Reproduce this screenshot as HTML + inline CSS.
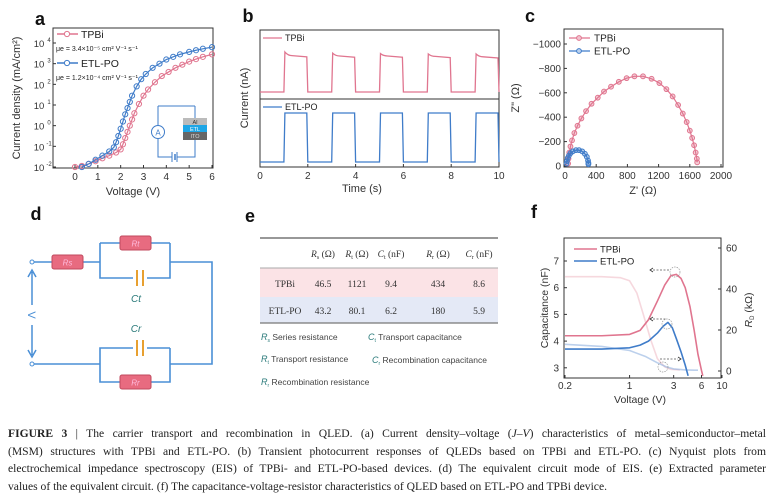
<!DOCTYPE html>
<html><head><meta charset="utf-8"><style>
body{margin:0;background:#fff;width:774px;height:501px;overflow:hidden;font-family:"Liberation Sans",sans-serif}
svg{position:absolute;left:0;top:0}
.cap{position:absolute;left:8px;width:758px;font-family:"Liberation Serif",serif;font-size:11.6px;color:#222;line-height:17.5px;text-align:justify;text-align-last:justify;white-space:nowrap}
</style></head><body>
<svg id="fig" width="774" height="415" font-family="Liberation Sans, sans-serif"></svg>
<div class="cap" style="top:425px"><b>FIGURE 3</b> | The carrier transport and recombination in QLED. (a) Current density–voltage (<i>J–V</i>) characteristics of metal–semiconductor–metal</div>
<div class="cap" style="top:442.5px">(MSM) structures with TPBi and ETL-PO. (b) Transient photocurrent responses of QLEDs based on TPBi and ETL-PO. (c) Nyquist plots from</div>
<div class="cap" style="top:460px">electrochemical impedance spectroscopy (EIS) of TPBi- and ETL-PO-based devices. (d) The equivalent circuit mode of EIS. (e) Extracted parameter</div>
<div class="cap" style="top:477.5px;text-align-last:left">values of the equivalent circuit. (f) The capacitance-voltage-resistor characteristics of QLED based on ETL-PO and TPBi device.</div>
<script>
// ---- Panel a data ----
const aTpbiV=[0,0.3,0.6,0.9,1.2,1.5,1.8,2.0,2.1,2.2,2.3,2.4,2.5,2.6,2.8,3.0,3.2,3.5,3.8,4.1,4.4,4.7,5.0,5.3,5.6,6.0];
const aTpbiLogJ=[-2,-1.95,-1.85,-1.72,-1.58,-1.45,-1.3,-1.15,-0.9,-0.6,-0.3,0,0.3,0.6,1.05,1.45,1.75,2.1,2.4,2.6,2.8,2.95,3.1,3.22,3.33,3.45];
const aEtlV=[0.3,0.6,0.9,1.2,1.5,1.7,1.8,1.9,2.0,2.1,2.2,2.3,2.4,2.5,2.7,2.9,3.1,3.4,3.7,4.0,4.3,4.6,5.0,5.3,5.6,6.0];
const aEtlLogJ=[-2,-1.85,-1.65,-1.45,-1.25,-1.05,-0.8,-0.5,-0.15,0.2,0.55,0.85,1.15,1.45,1.9,2.25,2.5,2.8,3.0,3.2,3.33,3.45,3.57,3.65,3.72,3.8];
const aXTicks=[0,1,2,3,4,5,6];
const aYTicks=[-2,-1,0,1,2,3,4];
// ---- Panel b data ----
const bOnTimes=[1,3,5,7,9];
const bOffTimes=[2,4,6,8,10];
const bTpbiPeak=[1,0.97,0.96,0.95,0.95];
const bTpbiEnd=[0.88,0.87,0.87,0.86,0.85];
const bEtlHigh=[1,1,1,1,1];
const bXTicks=[0,2,4,6,8,10];
// ---- Panel c data ----
const cTpbiRe=[40,45,55,70,90,120,160,210,270,340,420,500,590,690,790,890,1000,1110,1210,1300,1380,1450,1510,1560,1600,1630,1655,1675,1690,1695];
const cTpbiIm=[20,60,110,160,210,270,330,390,450,510,560,610,650,690,720,735,735,715,680,630,570,500,430,360,290,230,170,110,60,30];
const cEtlRe=[20,25,35,50,70,100,140,180,220,255,280,295,300,300];
const cEtlIm=[20,40,65,85,105,120,130,130,120,100,75,45,25,15];
const cXTicks=[0,400,800,1200,1600,2000];
const cYTicks=[0,-200,-400,-600,-800,-1000];
// ---- Panel e data ----
const eHeaders=["Rs","Rt","Ct","Rr","Cr"];
const eTpbi=["46.5","1121","9.4","434","8.6"];
const eEtl=["43.2","80.1","6.2","180","5.9"];
// ---- Panel f data ----
const fTpbiV=[0.2,0.5,1,1.3,1.6,2,2.4,2.8,3.2,3.6,4,4.5,5,5.5,6,6.2];
const fTpbiC=[4.2,4.2,4.25,4.4,4.8,5.5,6.1,6.45,6.5,6.35,6.0,5.3,4.4,3.5,2.9,2.7];
const fEtlV=[0.2,0.5,1,1.3,1.6,2,2.3,2.6,2.9,3.2,3.6,4,4.3];
const fEtlC=[3.7,3.7,3.75,3.85,4.0,4.3,4.55,4.7,4.5,4.1,3.6,3.1,2.7];
const fTpbiRV=[0.2,0.5,0.8,1,1.2,1.4,1.7,2,2.4,2.8,3.5];
const fTpbiR=[46,46,45.5,44,38,28,15,6,2,0.8,0.5];
const fEtlRV=[0.2,0.5,1,1.5,2,2.5,3,4,5,5.5];
const fEtlR=[13,12,10,7,4,2,1,0.5,0.4,0.4];
const fXTicks=[0.2,1,3,6,10];
const fCTicks=[3,4,5,6,7];
const fRTicks=[0,20,40,60];

const svg=document.getElementById('fig');
const NS='http://www.w3.org/2000/svg';
function el(tag,attrs,parent){const e=document.createElementNS(NS,tag);for(const k in attrs)e.setAttribute(k,attrs[k]);(parent||svg).appendChild(e);return e;}
function txt(x,y,s,size,parent,extra){const t=el('text',Object.assign({x:x,y:y,'font-size':size,fill:'#222','text-anchor':'middle'},extra||{}),parent);t.textContent=s;return t;}
const PINK='#e0758f',BLUE='#3f7cc9';

[['a',40,25],['b',248,22],['c',530,22],['d',36,220],['e',250,222],['f',534,218]].forEach(p=>{
 const t=txt(p[1],p[2],p[0],18,null,{'font-weight':'bold',fill:'#111'});
 
 
});

// ===== Panel a =====
(function(){
 const g=el('g',{});
 
 
 const L=53,R=213,T=28,B=168;
 const xs=v=>75+v*(212-75)/6, ys=l=>167-(l+2)*(124/6);
 el('rect',{x:L,y:T,width:R-L,height:B-T,fill:'none',stroke:'#333','stroke-width':1},g);
 aXTicks.forEach(v=>{el('line',{x1:xs(v),x2:xs(v),y1:B,y2:B-3,stroke:'#333'},g);txt(xs(v),B+12,String(v),10,g,{fill:'#333'});});
 aYTicks.forEach(v=>{el('line',{x1:L,x2:L+3,y1:ys(v),y2:ys(v),stroke:'#333'},g);
  txt(L-14,ys(v)+4,'10',9.5,g,{fill:'#333','text-anchor':'middle'});
  txt(L-4,ys(v)-1,String(v),6,g,{fill:'#333','text-anchor':'middle'});});
 txt(20,98,'Current density (mA/cm²)',11,g,{transform:'rotate(-90 20 98)',fill:'#333'});
 txt(133,195,'Voltage (V)',11,g,{fill:'#333'});
 function series(V,J,c,name){
  const pl=el('polyline',{points:V.map((v,i)=>xs(v)+','+ys(J[i])).join(' '),fill:'none',stroke:c,'stroke-width':1.2},g);
  
  
  V.forEach((v,i)=>{const m=el('circle',{cx:xs(v),cy:ys(J[i]),r:2.6,fill:'none',stroke:c,'stroke-width':1},g);
   
   });
 }
 series(aTpbiV,aTpbiLogJ,PINK,'tpbi');
 series(aEtlV,aEtlLogJ,BLUE,'etl-po');
 el('line',{x1:57,x2:78,y1:34,y2:34,stroke:PINK,'stroke-width':1.5},g);el('circle',{cx:67,cy:34,r:2.6,fill:'#fff',stroke:PINK},g);
 txt(81,38,'TPBi',10.5,g,{'text-anchor':'start'});
 txt(56,51,'μe = 3.4×10⁻⁵ cm² V⁻¹ s⁻¹',7,g,{'text-anchor':'start'});
 el('line',{x1:57,x2:78,y1:63,y2:63,stroke:BLUE,'stroke-width':1.5},g);el('circle',{cx:67,cy:63,r:2.6,fill:'#fff',stroke:BLUE},g);
 txt(81,67,'ETL-PO',10.5,g,{'text-anchor':'start'});
 txt(56,80,'μe = 1.2×10⁻⁴ cm² V⁻¹ s⁻¹',7,g,{'text-anchor':'start'});
 el('path',{d:'M158 106 V125 M158 139 V157 H172 M177 157 H195 V140 M195 106 H158 M195 106 V119',fill:'none',stroke:BLUE,'stroke-width':1},g);
 el('circle',{cx:158,cy:132,r:6.5,fill:'#fff',stroke:BLUE},g);txt(158,135.5,'A',8,g,{fill:BLUE});
 el('line',{x1:172,x2:172,y1:152,y2:162,stroke:BLUE},g);el('line',{x1:175,x2:175,y1:154,y2:160,stroke:BLUE,'stroke-width':1.5},g);el('line',{x1:177,x2:177,y1:152,y2:162,stroke:BLUE},g);
 el('rect',{x:183,y:118,width:24,height:7,fill:'#bbb'},g);txt(195,124,'Al',5.5,g,{fill:'#333'});
 el('rect',{x:183,y:125,width:24,height:7,fill:'#1ea6e6'},g);txt(195,131,'ETL',5.5,g,{fill:'#fff'});
 el('rect',{x:183,y:132,width:24,height:8,fill:'#666'},g);txt(195,138,'ITO',5.5,g,{fill:'#ddd'});
})();

// ===== Panel b =====
(function(){
 const g=el('g',{});
 
 
 const L=260,R=499,T=30,M=99,B=167;
 const xs=t=>L+t*(R-L)/10;
 const yp=v=>92-v*40, yb=v=>162-v*49;
 el('rect',{x:L,y:T,width:R-L,height:B-T,fill:'none',stroke:'#333'},g);
 el('line',{x1:L,x2:R,y1:M,y2:M,stroke:'#333'},g);
 bXTicks.forEach(v=>{el('line',{x1:xs(v),x2:xs(v),y1:B,y2:B-3,stroke:'#333'},g);txt(xs(v),B+12,String(v),10,g,{fill:'#333'});});
 txt(362,192,'Time (s)',11,g,{fill:'#333'});
 txt(248,98,'Current (nA)',11,g,{transform:'rotate(-90 248 98)',fill:'#333'});
 let dp='M'+xs(0)+' '+yp(0), db='M'+xs(0)+' '+yb(0);
 bOnTimes.forEach((t,i)=>{
  const off=bOffTimes[i];
  dp+=' L'+xs(t)+' '+yp(0)+' L'+(xs(t)+1)+' '+yp(bTpbiPeak[i])+' Q'+(xs(t)+4)+' '+yp(bTpbiEnd[i]+0.03)+' '+(xs(t)+8)+' '+yp(bTpbiEnd[i]+0.03)+' L'+(xs(off)-1)+' '+yp(bTpbiEnd[i])+' L'+xs(off)+' '+yp(0);
  db+=' L'+xs(t)+' '+yb(0)+' L'+(xs(t)+1)+' '+yb(bEtlHigh[i])+' L'+(xs(off)-1)+' '+yb(bEtlHigh[i])+' L'+xs(off)+' '+yb(0);
 });
 const p1=el('path',{d:dp,fill:'none',stroke:PINK,'stroke-width':1.3},g);
 
 
 const p2=el('path',{d:db,fill:'none',stroke:BLUE,'stroke-width':1.3},g);
 
 
 el('line',{x1:263,x2:282,y1:38,y2:38,stroke:PINK,'stroke-width':1.3},g);txt(285,41,'TPBi',9,g,{'text-anchor':'start'});
 el('line',{x1:263,x2:282,y1:107,y2:107,stroke:BLUE,'stroke-width':1.3},g);txt(285,110,'ETL-PO',9,g,{'text-anchor':'start'});
})();

// ===== Panel c =====
(function(){
 const g=el('g',{});
 
 
 const L=564,R=723,T=29,B=167;
 const xs=v=>565+v*(721-565)/2000, ys=v=>166-v*(122/1000);
 el('rect',{x:L,y:T,width:R-L,height:B-T,fill:'none',stroke:'#333'},g);
 cXTicks.forEach(v=>{el('line',{x1:xs(v),x2:xs(v),y1:B,y2:B-3,stroke:'#333'},g);txt(xs(v),B+12,String(v),10,g,{fill:'#333'});});
 cYTicks.forEach(v=>{el('line',{x1:L,x2:L+3,y1:ys(-v),y2:ys(-v),stroke:'#333'},g);txt(L-3,ys(-v)+3.5,v===0?'0':'−'+(-v),10,g,{fill:'#333','text-anchor':'end'});});
 txt(519,98,'Z" (Ω)',11,g,{transform:'rotate(-90 519 98)',fill:'#333'});
 txt(643,194,"Z' (Ω)",11,g,{fill:'#333'});
 function series(X,Y,c,name){
  const pl=el('polyline',{points:X.map((v,i)=>xs(v)+','+ys(Y[i])).join(' '),fill:'none',stroke:c,'stroke-width':1.2},g);
  
  
  X.forEach((v,i)=>{const m=el('circle',{cx:xs(v),cy:ys(Y[i]),r:2.4,fill:c,'fill-opacity':0.35,stroke:c,'stroke-width':1},g);
   
   });
 }
 series(cTpbiRe,cTpbiIm,PINK,'tpbi');series(cEtlRe,cEtlIm,BLUE,'etl-po');
 el('line',{x1:569,x2:590,y1:38,y2:38,stroke:PINK,'stroke-width':1.3},g);el('circle',{cx:579,cy:38,r:2.4,fill:'#f3c3cf',stroke:PINK},g);txt(594,41.5,'TPBi',10,g,{'text-anchor':'start'});
 el('line',{x1:569,x2:590,y1:51,y2:51,stroke:BLUE,'stroke-width':1.3},g);el('circle',{cx:579,cy:51,r:2.4,fill:'#bcd2ee',stroke:BLUE},g);txt(594,54.5,'ETL-PO',10,g,{'text-anchor':'start'});
})();

// ===== Panel d =====
(function(){
 const g=el('g',{});
 
 
 const W='#4a8fd6',O='#e8a030';
 el('path',{d:'M34 262 H52 M82 262 H100 M100 243 V278 H133 M147 278 H170 V243 M100 243 H120 M150 243 H170 M170 262 H212 V364 H170 M170 348 V382 H150 M120 382 H100 V348 H133 M147 348 H170 M100 364 H34',fill:'none',stroke:W,'stroke-width':1.6},g);
 el('circle',{cx:32,cy:262,r:2,fill:'#fff',stroke:W},g);el('circle',{cx:32,cy:364,r:2,fill:'#fff',stroke:W},g);
 function res(x,y,lab){el('rect',{x:x,y:y-7,width:31,height:14,rx:2,fill:'#e86b80',stroke:'#c04a5e'},g);txt(x+15.5,y+3.5,lab,8,g,{fill:'#fbd',"font-style":'italic'});}
 res(52,262,'Rs');res(120,243,'Rt');res(120,382,'Rr');
 [[278],[348]].forEach(p=>{el('line',{x1:137,x2:137,y1:p[0]-8,y2:p[0]+8,stroke:O,'stroke-width':2},g);el('line',{x1:143,x2:143,y1:p[0]-8,y2:p[0]+8,stroke:O,'stroke-width':2},g);});
 txt(136,302,'Ct',10,g,{fill:'#2a7a7a','font-style':'italic'});txt(136,332,'Cr',10,g,{fill:'#2a7a7a','font-style':'italic'});
 el('path',{d:'M32 272 V305 M32 325 V355 M28 277 L32 270 L36 277 M28 350 L32 357 L36 350',fill:'none',stroke:W,'stroke-width':1.5},g);
 txt(32,319,'V',11,g,{transform:'rotate(90 32 315)',fill:W});
})();

// ===== Panel e =====
(function(){
 const g=el('g',{});
 
 
 el('line',{x1:260,x2:498,y1:238,y2:238,stroke:'#777','stroke-width':1.5},g);
 el('rect',{x:260,y:268,width:238,height:29,fill:'#fbe3e6'},g);
 el('rect',{x:260,y:297,width:238,height:26,fill:'#e4e9f6'},g);
 el('line',{x1:260,x2:498,y1:268,y2:268,stroke:'#aaa'},g);
 el('line',{x1:260,x2:498,y1:323,y2:323,stroke:'#777','stroke-width':1.2},g);
 const cx=[323,357,391,438,479];
 const sub=['s','t','t','r','r'];
 eHeaders.forEach((h,i)=>{const t=txt(cx[i],257,'',9.5,g,{'font-family':'Liberation Serif, serif',fill:'#333'});
  t.innerHTML='<tspan font-style="italic">'+h[0]+'</tspan><tspan font-size="6" dy="2">'+sub[i]+'</tspan><tspan dy="-2"> '+(h[0]==='R'?'(Ω)':'(nF)')+'</tspan>';});
 txt(285,287,'TPBi',9.5,g,{'font-family':'Liberation Serif, serif',fill:'#333'});
 txt(285,314,'ETL-PO',9.5,g,{'font-family':'Liberation Serif, serif',fill:'#333'});
 eTpbi.forEach((v,i)=>txt(cx[i],287,v,9.5,g,{'font-family':'Liberation Serif, serif',fill:'#333'}));
 eEtl.forEach((v,i)=>txt(cx[i],314,v,9.5,g,{'font-family':'Liberation Serif, serif',fill:'#333'}));
 const leg=[[261,340,'R','s','Series resistance'],[261,362,'R','t','Transport resistance'],[261,385,'R','r','Recombination resistance'],[368,340,'C','t','Transport capacitance'],[372,363,'C','r','Recombination capacitance']];
 leg.forEach(l=>{const t=txt(l[0],l[1],'',8.5,g,{'text-anchor':'start',fill:'#444'});
  t.innerHTML='<tspan fill="#2a7a7a" font-style="italic" font-size="9">'+l[2]+'</tspan><tspan font-size="5" dy="2" fill="#2a7a7a">'+l[3]+'</tspan><tspan dy="-2">  '+l[4]+'</tspan>';});
})();

// ===== Panel f =====
(function(){
 const g=el('g',{});
 
 
 const L=564,R=721,T=238,B=378;
 const xs=v=>565+Math.log10(v/0.2)*92.4, yc=c=>261+(7-c)*26.7, yr=r=>371-r*(41/20);
 const cp=el('clipPath',{id:'fclip'},g);el('rect',{x:L,y:T,width:R-L,height:B-T},cp);
 el('rect',{x:L,y:T,width:R-L,height:B-T,fill:'none',stroke:'#333'},g);
 fXTicks.forEach(v=>{el('line',{x1:xs(v),x2:xs(v),y1:B,y2:B-3,stroke:'#333'},g);txt(xs(v),B+11,String(v),10,g,{fill:'#333'});});
 fCTicks.forEach(v=>{el('line',{x1:L,x2:L+3,y1:yc(v),y2:yc(v),stroke:'#333'},g);txt(L-5,yc(v)+3.5,String(v),10,g,{fill:'#333','text-anchor':'end'});});
 fRTicks.forEach(v=>{el('line',{x1:R,x2:R-3,y1:yr(v),y2:yr(v),stroke:'#333'},g);txt(R+5,yr(v)+3.5,String(v),10,g,{fill:'#333','text-anchor':'start'});});
 txt(548,308,'Capacitance (nF)',10.5,g,{transform:'rotate(-90 548 308)',fill:'#333'});
 const rl=txt(752,310,'',10.5,g,{transform:'rotate(-90 752 310)',fill:'#333'});rl.innerHTML='<tspan font-style="italic">R</tspan><tspan font-size="6" dy="2">D</tspan><tspan dy="-2"> (kΩ)</tspan>';
 txt(640,403,'Voltage (V)',10.5,g,{fill:'#333'});
 const cg=el('g',{'clip-path':'url(#fclip)'},g);
 function line(V,Y,ymap,c,w,op,name){const pl=el('polyline',{points:V.map((v,i)=>xs(v)+','+ymap(Y[i])).join(' '),fill:'none',stroke:c,'stroke-width':w,'stroke-opacity':op,'stroke-linejoin':'round'},cg);
  
  }
 line(fTpbiRV,fTpbiR,yr,'#eaa8b6',1.6,0.45,'tpbi-resistance-line');
 line(fEtlRV,fEtlR,yr,'#8fb0e0',1.6,0.6,'etl-po-resistance-line');
 line(fTpbiV,fTpbiC,yc,PINK,1.6,1,'tpbi-capacitance-line');
 line(fEtlV,fEtlC,yc,BLUE,1.6,1,'etl-po-capacitance-line');
 el('path',{d:'M653 270 H669 M653 319 H666 M660 359 H678',stroke:'#555','stroke-width':0.8,'stroke-dasharray':'2,1.5',fill:'none'},g);
 el('path',{d:'M653 268 L650 270 L653 272 M653 317 L650 319 L653 321 M678 357 L681 359 L678 361',stroke:'#333',fill:'none','stroke-width':0.8},g);
 el('circle',{cx:675,cy:272,r:5,fill:'none',stroke:'#999','stroke-width':0.7,'stroke-dasharray':'1.5,1'},g);
 el('circle',{cx:667,cy:324,r:5,fill:'none',stroke:'#999','stroke-width':0.7,'stroke-dasharray':'1.5,1'},g);
 el('circle',{cx:663,cy:367,r:5,fill:'none',stroke:'#999','stroke-width':0.7,'stroke-dasharray':'1.5,1'},g);
 el('line',{x1:574,x2:597,y1:249,y2:249,stroke:PINK,'stroke-width':1.6},g);txt(600,252.5,'TPBi',9.5,g,{'text-anchor':'start'});
 el('line',{x1:574,x2:597,y1:261,y2:261,stroke:BLUE,'stroke-width':1.6},g);txt(600,264.5,'ETL-PO',9.5,g,{'text-anchor':'start'});
})();
</script>
</body></html>
